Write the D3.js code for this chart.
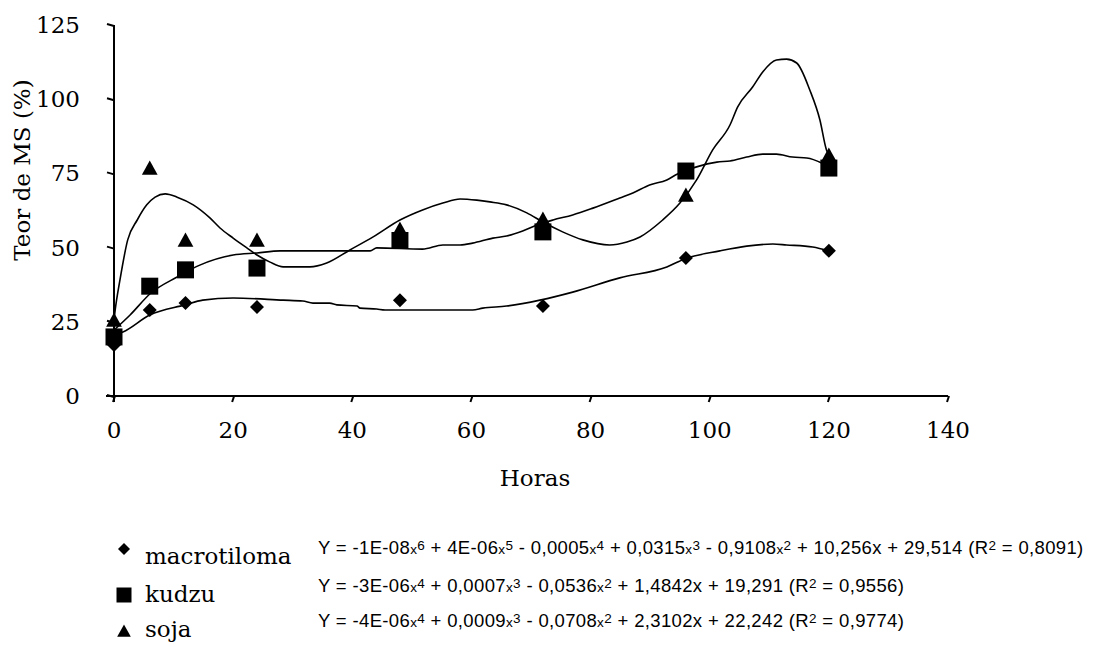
<html>
<script src='https://d3js.org/d3.v7.min.js'></script>
<style>
body {margin:0; background:white;}
.axis {stroke:black; stroke-width:2; fill:none;}
.curve {fill:none; stroke:black; stroke-width:1.6;}
.lab {font: 23px 'DejaVu Serif'; fill:black;}
.eq {font: 18.5px 'Liberation Sans'; fill:black; letter-spacing:0.35px;}
</style>
<body>
<svg width=1095 height=647></svg>
<script>

var horas = [0,6,12,24,48,72,96,120];
var macrotiloma = [17.2,29,31.3,30,32.3,30.3,46.5,48.9];
var kudzu = [19.9,37,42.5,43.1,52.4,55.3,75.8,76.8];
var soja = [25.6,76.8,52.6,52.6,56.3,59.6,67.7,81.2];

var xTicks = [0,20,40,60,80,100,120,140];
var yTicks = [0,25,50,75,100,125];

// trend lines as drawn in the picture, [hora, teor]
var macroCurve = [[0,20.6],[1.5,21.6],[6,27.3],[11.9,30.7],[14.9,32.3],[20,33],[28.4,32.3],[31.7,32],
  [33.4,31.3],[36.2,31.3],[37.4,30.7],[40.8,30.3],[41.3,29.6],[44.1,29.3],[45.5,29],[60.2,29],
  [61.9,29.6],[65.9,30.3],[71.5,32.3],[77,35],[84.9,39.8],[92.8,43.5],[95.8,46.2],[101.7,48.9],
  [106.2,50.5],[110.6,51.2],[112.9,50.9],[117.3,50.2],[120,48.9]];
var kudzuCurve = [[0,22.2],[2.7,27.3],[6.2,34.7],[10.6,40.1],[14.4,44.1],[20,47.5],[24,48.2],[27.9,48.9],
  [43,48.9],[44.1,49.9],[51.8,49.5],[55.2,50.9],[58.1,50.9],[60.2,51.5],[63.6,53.2],[65.9,53.9],
  [68.6,55.6],[71,57.6],[73.7,59.3],[77,61],[80.4,63.3],[84.9,66.7],[87.1,68.4],[89.9,71.1],
  [92.8,72.8],[94.6,74.8],[97.8,77.2],[101.2,78.8],[103.4,79.2],[106.2,80.5],[108.9,81.5],
  [111.2,81.5],[113.9,80.5],[116.3,80.2],[118.8,78.5],[120,77.2]];
var sojaCurve = [[0,25.6],[0.2,29],[1,39.1],[2.3,52.6],[3.9,59.3],[5.5,64.4],[6.9,67],[8.6,68.1],
  [10.6,67],[13.3,64.4],[16.1,60],[17.8,56.6],[20,53.2],[22.3,49.9],[24,47.5],[26.2,45.1],
  [28.4,43.5],[32.9,43.5],[35.7,44.8],[39.6,49.2],[43.5,53.6],[48,59.3],[51.8,62.7],[55.2,65],
  [58.1,66.4],[60.9,66],[63.1,65.4],[65.9,64.4],[69.3,61.7],[72,58.6],[75.3,55.3],[78.7,52.6],
  [83.2,50.9],[86.1,51.9],[88.3,53.6],[92.1,59.3],[95,65],[97.8,72.8],[100.5,82.9],[103.4,91.3],
  [104.7,97.4],[107.2,104.1],[108.9,109.2],[111.2,113.2],[112.9,113.5],[114.6,112.2],
  [116.8,103.1],[118.5,93],[119.6,82.9],[120,81.2]];

var nomes = ['macrotiloma','kudzu','soja'];
var equacoes = [
  'Y = -1E-08x^6 + 4E-06x^5 - 0,0005x^4 + 0,0315x^3 - 0,9108x^2 + 10,256x + 29,514 (R^2 = 0,8091)',
  'Y = -3E-06x^4 + 0,0007x^3 - 0,0536x^2 + 1,4842x + 19,291 (R^2 = 0,9556)',
  'Y = -4E-06x^4 + 0,0009x^3 - 0,0708x^2 + 2,3102x + 22,242 (R^2 = 0,9774)'];

var svg = d3.select('svg');
var x = d3.scaleLinear().domain([0,140]).range([114,948]);
var y = d3.scaleLinear().domain([0,125]).range([396,25]);

// marker shapes
function diamond(s) { return 'M0,' + (-s) + 'L' + s + ',0L0,' + s + 'L' + (-s) + ',0Z'; }
function square(s) { return 'M' + (-s) + ',' + (-s) + 'h' + (2*s) + 'v' + (2*s) + 'h' + (-2*s) + 'Z'; }
function triangle(s) { return 'M0,' + (-s) + 'L' + (s*1.05) + ',' + (s*0.9) + 'L' + (-s*1.05) + ',' + (s*0.9) + 'Z'; }

// axes
svg.append('line').attr('class','axis')
  .attr('x1', x(0)).attr('x2', x(0)).attr('y1', y(125)).attr('y2', y(0) + 6);
svg.append('line').attr('class','axis')
  .attr('x1', x(0) - 8).attr('x2', x(140)).attr('y1', y(0)).attr('y2', y(0));

svg.selectAll('.ytick').data(yTicks).enter().append('line')
  .attr('class','axis')
  .attr('x1', x(0) - 7).attr('x2', x(0))
  .attr('y1', function(d) { return y(d) - 1; }).attr('y2', function(d) { return y(d) + 1; });
svg.selectAll('.ylab').data(yTicks).enter().append('text')
  .attr('class','lab')
  .attr('x', 80).attr('y', function(d) { return y(d) + 8; })
  .attr('text-anchor','end')
  .text(function(d) { return d; });

svg.selectAll('.xtick').data(xTicks).enter().append('line')
  .attr('class','axis')
  .attr('x1', function(d) { return x(d) + 1; }).attr('x2', function(d) { return x(d) - 1; })
  .attr('y1', y(0)).attr('y2', y(0) + 6);
svg.selectAll('.xlab').data(xTicks).enter().append('text')
  .attr('class','lab')
  .attr('x', function(d) { return x(d); }).attr('y', y(0) + 42)
  .attr('text-anchor','middle')
  .text(function(d) { return d; });

svg.append('text').attr('class','lab')
  .attr('x', 535).attr('y', 486).attr('text-anchor','middle').text('Horas');
svg.append('text').attr('class','lab')
  .attr('transform','translate(30,170) rotate(-90)')
  .attr('text-anchor','middle').text('Teor de MS (%)');

// trend lines
var line = d3.line()
  .x(function(d) { return x(d[0]); })
  .y(function(d) { return y(d[1]); })
  .curve(d3.curveMonotoneX);
[macroCurve, kudzuCurve, sojaCurve].forEach(function(c) {
  svg.append('path').attr('class','curve').attr('d', line(c));
});

// points
var series = [[macrotiloma, diamond, 7], [kudzu, square, 8.5], [soja, triangle, 7.5]];
series.forEach(function(s) {
  svg.append('g').selectAll('path').data(s[0]).enter().append('path')
    .attr('d', s[1](s[2]))
    .attr('fill','black')
    .attr('transform', function(d,i) { return 'translate(' + x(horas[i]) + ',' + y(d) + ')'; });
});

// legend
var legY = [564, 602, 637];
var legShape = [[diamond, 6, -15], [square, 7.5, -7], [triangle, 6.5, -6]];
nomes.forEach(function(n, i) {
  svg.append('path').attr('d', legShape[i][0](legShape[i][1])).attr('fill','black')
    .attr('transform','translate(124,' + (legY[i] + legShape[i][2]) + ')');
  svg.append('text').attr('class','lab').attr('x', 145).attr('y', legY[i]).text(n);

  var t = svg.append('text').attr('class','eq').attr('x', 318).attr('y', legY[i] - 10);
  var parts = equacoes[i].split(/([xR]\^\d)/);
  var up = 0;
  parts.forEach(function(p) {
    if (p === '') return;
    if (/^[xR]\^\d$/.test(p)) {
      var base = p.charAt(0), ex = p.charAt(2);
      var b = t.append('tspan').text(base).attr('dy', up);
      if (base == 'x') b.style('font-size','13.5px');
      t.append('tspan').style('font-size','13.5px').attr('dy', -4).text(ex);
      up = 4;
    } else {
      t.append('tspan').attr('dy', up).text(p);
      up = 0;
    }
  });
});

</script>
</body>
</html>
